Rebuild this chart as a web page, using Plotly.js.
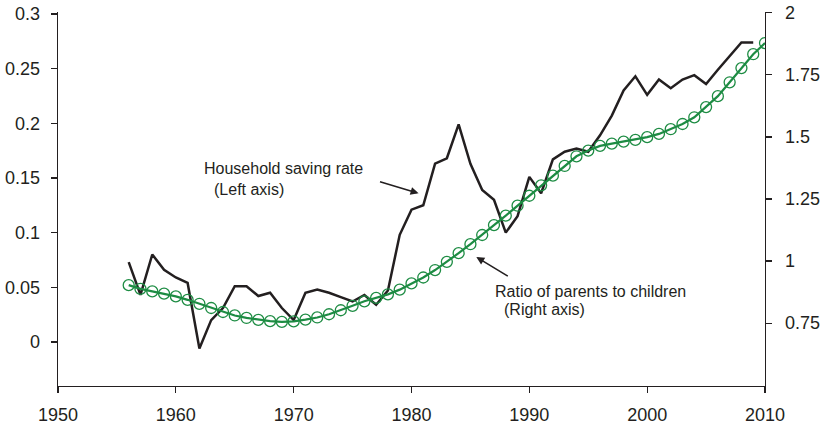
<!DOCTYPE html>
<html>
<head>
<meta charset="utf-8">
<script src="https://cdn.plot.ly/plotly-3.0.1.min.js"></script>
<style>html,body{margin:0;padding:0;background:#fff;}#chart{width:824px;height:424px;}</style>
</head>
<body>
<div id="chart"></div>
<script>
const savingYears = [1956,1957,1958,1959,1960,1961,1962,1963,1964,1965,1966,1967,1968,1969,1970,1971,1972,1973,1974,1975,1976,1977,1978,1979,1980,1981,1982,1983,1984,1985,1986,1987,1988,1989,1990,1991,1992,1993,1994,1995,1996,1997,1998,1999,2000,2001,2002,2003,2004,2005,2006,2007,2008,2009];
const savingRate = [0.073,0.043,0.080,0.066,0.059,0.054,-0.006,0.020,0.031,0.051,0.051,0.042,0.045,0.031,0.020,0.045,0.048,0.045,0.041,0.037,0.043,0.034,0.047,0.098,0.121,0.125,0.163,0.168,0.199,0.163,0.139,0.130,0.100,0.115,0.151,0.136,0.167,0.174,0.177,0.174,0.189,0.207,0.230,0.243,0.226,0.240,0.232,0.240,0.244,0.236,0.249,0.261,0.274,0.274];
const ratioYears = [1956,1957,1958,1959,1960,1961,1962,1963,1964,1965,1966,1967,1968,1969,1970,1971,1972,1973,1974,1975,1976,1977,1978,1979,1980,1981,1982,1983,1984,1985,1986,1987,1988,1989,1990,1991,1992,1993,1994,1995,1996,1997,1998,1999,2000,2001,2002,2003,2004,2005,2006,2007,2008,2009,2010];
const parentsChildrenRatio = [0.903,0.888,0.878,0.869,0.858,0.844,0.828,0.811,0.795,0.781,0.771,0.763,0.758,0.755,0.757,0.764,0.773,0.786,0.802,0.820,0.838,0.852,0.866,0.885,0.910,0.934,0.964,0.997,1.032,1.068,1.105,1.145,1.183,1.223,1.263,1.305,1.344,1.383,1.422,1.445,1.464,1.473,1.481,1.488,1.499,1.512,1.531,1.552,1.579,1.620,1.664,1.720,1.777,1.833,1.878];
const xTicks = [1950,1960,1970,1980,1990,2000,2010];
const leftTicks = [0,0.05,0.1,0.15,0.2,0.25,0.3];
const leftTickText = ['0','0.05','0.1','0.15','0.2','0.25','0.3'];
const rightTicks = [0.75,1,1.25,1.5,1.75,2];
const rightTickText = ['0.75','1','1.25','1.5','1.75','2'];

const ink = '#231f20';
const green = '#1d8c43';
const font = 'Liberation Sans, Arial, Helvetica, sans-serif';

const traces = [
  {x: savingYears, y: savingRate, type: 'scatter', mode: 'lines', yaxis: 'y',
   line: {color: ink, width: 2.5}, hoverinfo: 'skip'},
  {x: ratioYears, y: parentsChildrenRatio, type: 'scatter', mode: 'lines+markers', yaxis: 'y2',
   line: {color: green, width: 2.2},
   marker: {symbol: 'circle-open', size: 11, color: green, line: {color: green, width: 1.3}}, hoverinfo: 'skip'}
];

const layout = {
  width: 824, height: 424,
  margin: {l: 58, r: 59, t: 12, b: 38},
  paper_bgcolor: '#fff', plot_bgcolor: '#fff',
  showlegend: false,
  font: {family: font, size: 18, color: ink},
  xaxis: {range: [1950, 2010], tickvals: xTicks, ticktext: xTicks.map(String),
    showline: true, linecolor: ink, linewidth: 1.3, ticks: 'outside', ticklen: 6, tickwidth: 1.2, tickcolor: ink,
    showgrid: false, zeroline: false, ticklabelstandoff: 6, tickfont: {size: 18, color: ink}},
  yaxis: {range: [-0.0403, 0.3018], tickvals: leftTicks, ticktext: leftTickText,
    showline: true, linecolor: ink, linewidth: 1.3, ticks: 'outside', ticklen: 6, tickwidth: 1.2, tickcolor: ink,
    showgrid: false, zeroline: false, ticklabelstandoff: 7, tickfont: {size: 18, color: ink}},
  yaxis2: {range: [0.497, 2.003], tickvals: rightTicks, ticktext: rightTickText, overlaying: 'y', side: 'right',
    showline: true, linecolor: ink, linewidth: 1.3, ticks: 'outside', ticklen: 6, tickwidth: 1.2, tickcolor: ink,
    showgrid: false, zeroline: false, ticklabelstandoff: 9, tickfont: {size: 18, color: ink}},
  annotations: [
    {xref: 'x', yref: 'y', x: 1962.2, y: 0.159, xanchor: 'left', yanchor: 'middle', showarrow: false,
     text: 'Household saving rate', font: {family: font, size: 16, color: ink}},
    {xref: 'x', yref: 'y', x: 1963.1, y: 0.139, xanchor: 'left', yanchor: 'middle', showarrow: false,
     text: '(Left axis)', font: {family: font, size: 16, color: ink}},
    {xref: 'x', yref: 'y', x: 1980.6, y: 0.136, axref: 'x', ayref: 'y', ax: 1977.2, ay: 0.147,
     text: '', showarrow: true, arrowhead: 2, arrowsize: 1, arrowwidth: 1.6, arrowcolor: ink},
    {xref: 'x', yref: 'y', x: 1986.9, y: 0.0457, xanchor: 'left', yanchor: 'middle', showarrow: false,
     text: 'Ratio of parents to children', font: {family: font, size: 16, color: ink}},
    {xref: 'x', yref: 'y', x: 1987.7, y: 0.0293, xanchor: 'left', yanchor: 'middle', showarrow: false,
     text: '(Right axis)', font: {family: font, size: 16, color: ink}},
    {xref: 'x', yref: 'y', x: 1985.5, y: 0.0777, axref: 'x', ayref: 'y', ax: 1988.3, ay: 0.0594,
     text: '', showarrow: true, arrowhead: 2, arrowsize: 1, arrowwidth: 1.6, arrowcolor: ink}
  ]
};

Plotly.newPlot('chart', traces, layout, {staticPlot: true, displayModeBar: false});
</script>
</body>
</html>
